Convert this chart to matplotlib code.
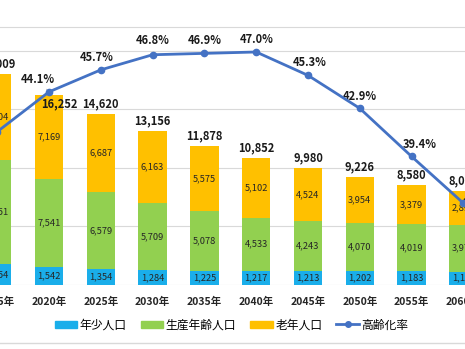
import matplotlib
matplotlib.use("Agg")
import matplotlib.pyplot as plt
from matplotlib.patches import Patch
from matplotlib.lines import Line2D

plt.rcParams["font.family"] = ["Noto Sans CJK JP", "DejaVu Sans"]

# データ
years = ["2015年", "2020年", "2025年", "2030年", "2035年", "2040年",
         "2045年", "2050年", "2055年", "2060年"]
young = [1754, 1542, 1354, 1284, 1225, 1217, 1213, 1202, 1183, 1152]
working = [8951, 7541, 6579, 5709, 5078, 4533, 4243, 4070, 4019, 3978]
elderly = [7304, 7169, 6687, 6163, 5575, 5102, 4524, 3954, 3379, 2893]
totals = [18009, 16252, 14620, 13156, 11878, 10852, 9980, 9226, 8580, 8023]
rate = [41.2, 44.1, 45.7, 46.8, 46.9, 47.0, 45.3, 42.9, 39.4, 36.0]

series_names = ["年少人口", "生産年齢人口", "老年人口", "高齢化率"]
c_young, c_work, c_old, c_line = "#1AAEEA", "#92D050", "#FFC000", "#4472C4"

fig = plt.figure(figsize=(4.65, 3.49), dpi=100)
ax = fig.add_axes([-0.1075, 0.1834, 1.215, 0.7393])
x = list(range(len(years)))
w = 0.55

b1 = ax.bar(x, young, w, color=c_young, zorder=2)
b2 = ax.bar(x, working, w, bottom=young, color=c_work, zorder=2)
bottom3 = [a + b for a, b in zip(young, working)]
b3 = ax.bar(x, elderly, w, bottom=bottom3, color=c_old, zorder=2)
tops = [a + b for a, b in zip(bottom3, elderly)]

# 各区分のラベル
for vals, bots in [(young, [0] * len(x)), (working, young), (elderly, bottom3)]:
    for i, (v, b) in enumerate(zip(vals, bots)):
        ax.text(i, b + v / 2, f"{v:,}", ha="center", va="center",
                fontsize=6.7, color="#262626", zorder=3)

# 合計ラベル
for i, (t, top) in enumerate(zip(totals, tops)):
    off = (10, -9) if i == 1 else (0, 10)
    ax.annotate(f"{t:,}", (i, top), xytext=off, textcoords="offset pixels",
                ha="center", va="center", fontsize=8, fontweight="bold",
                color="#1a1a1a", zorder=4)

ax.set_xlim(-0.911, 9.996)
ax.set_ylim(0, 22050)
ax.set_yticks([5000, 10000, 15000, 20000])
ax.yaxis.grid(True, color="#D9D9D9", lw=0.8, zorder=0)
ax.set_xticks(x)
ax.set_xticklabels(years, fontsize=7.5, fontweight="bold", color="#262626")
ax.tick_params(axis="x", length=0, pad=8.5)
ax.tick_params(axis="y", length=0, labelleft=False)
for s in ["left", "right", "bottom"]:
    ax.spines[s].set_visible(False)
ax.spines["top"].set_color("#D9D9D9")
ax.axhline(0, color="#D9D9D9", lw=0.8, zorder=1)

# 高齢化率
ax2 = ax.twinx()
ax2.plot(x, rate, color=c_line, lw=2, marker="o", markersize=4.5, zorder=5)
ax2.set_ylim(30.05, 48.82)
ax2.set_yticks([])
for s in ax2.spines.values():
    s.set_visible(False)

label_off = [(-14, 12), (-11, 12), (-4, 12), (0, 14), (0, 13),
             (0, 12), (2, 13), (0, 12), (8, 12), (16, 0)]
for i, (r, off) in enumerate(zip(rate, label_off)):
    arrow = dict(arrowstyle="-", color="#A6A6A6", lw=0.5, shrinkA=0, shrinkB=2) if i in (1, 8) else None
    ax2.annotate(f"{r:.1f}%", (i, r), xytext=off, textcoords="offset pixels",
                 ha="center", va="center", fontsize=8, fontweight="bold",
                 color="#1a1a1a", arrowprops=arrow)

# 凡例
handles = [Patch(color=c_young), Patch(color=c_work), Patch(color=c_old),
           Line2D([0], [0], color=c_line, lw=2, marker="o", markersize=4)]
fig.legend(handles, series_names, loc="center", bbox_to_anchor=(0.498, 0.069),
           ncol=4, frameon=False, fontsize=8.5, handlelength=1.9,
           handletextpad=0.2, columnspacing=1.2, handleheight=0.6)

fig.add_artist(Line2D([0, 1], [0.017, 0.017], transform=fig.transFigure,
                      color="#D9D9D9", lw=1))

fig.savefig("out.png", dpi=100)
